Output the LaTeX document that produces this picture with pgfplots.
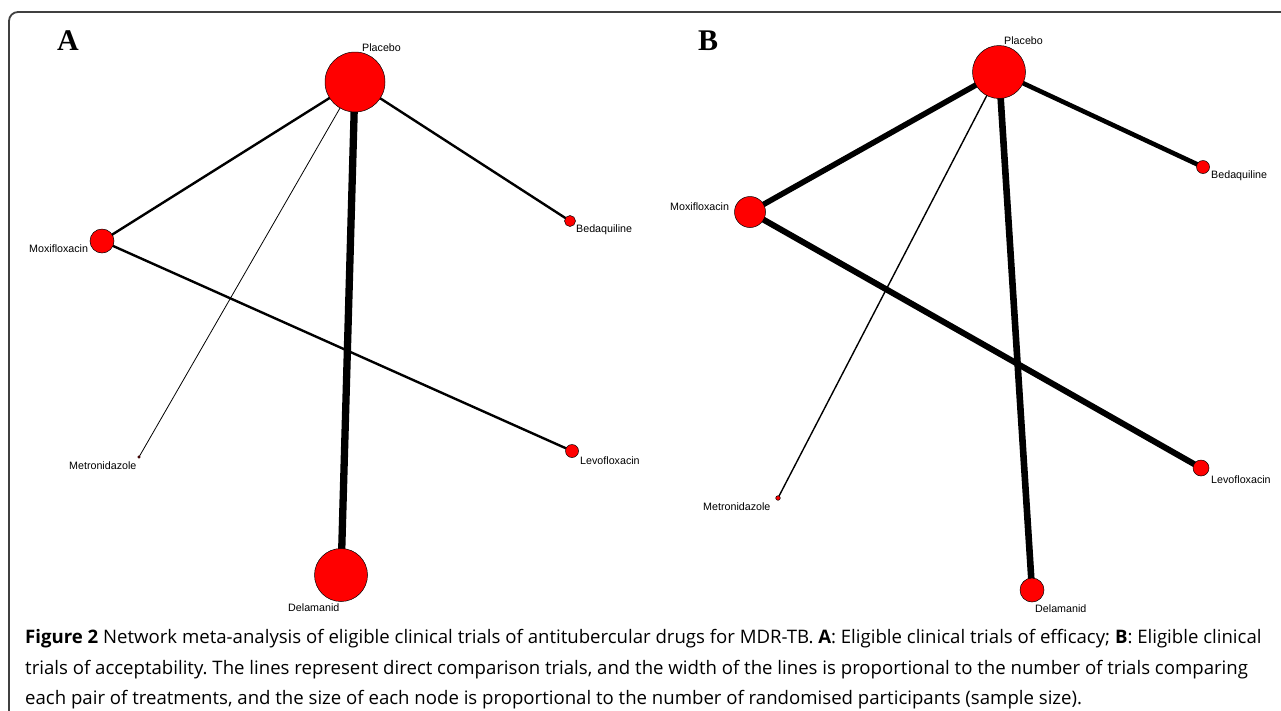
\documentclass[border=0pt]{standalone}
\usepackage{fontspec}
\setmainfont{Liberation Sans}
\newfontfamily\capfont{Open Sans}
\newfontfamily\letfont{Liberation Serif}
\usepackage{pgfplots}
\usepackage{pgfplotstable}
\pgfplotsset{compat=1.18}
\frenchspacing

% node positions (pixel coordinates), radius
\pgfplotstableread{
x y r
355 82 30
102 241 12
570 221 5.5
139 457 1.3
572 451 6.5
341 575 26.5
}\nodesA
\pgfplotstableread{
x y r
999 72 26.5
750 212 15.5
1203 167 6.5
778 498 2.3
1201 468 8
1032 590 12
}\nodesB
\pgfplotstableread{
x y label
362 51 Placebo
29 252 Moxifloxacin
576 232 Bedaquiline
69 469 Metronidazole
580 464 Levofloxacin
288 611 Delamanid
1004 44 Placebo
670 210 Moxifloxacin
1211 178 Bedaquiline
703 510 Metronidazole
1211 483 Levofloxacin
1035 612 Delamanid
}\labels

\newcommand\labfont{\fontsize{10.7}{12}\selectfont}
\newcommand\cfont{\capfont\fontsize{18.6}{22}\selectfont}

\begin{document}
\begin{tikzpicture}
\begin{axis}[
  width=1281pt, height=710pt, scale only axis,
  xmin=0, xmax=1281, ymin=0, ymax=710, y dir=reverse,
  hide axis, clip=true,
]
% frame
\draw[black!75, line width=1.8pt, rounded corners=9pt] (axis cs:9,730) -- (axis cs:9,12) -- (axis cs:1300,12);

% edges panel A
\addplot[black, line width=2.4pt] coordinates {(355,82) (102,241)};
\addplot[black, line width=0.8pt] coordinates {(355,82) (139,457)};
\addplot[black, line width=7.3pt] coordinates {(355,82) (341,575)};
\addplot[black, line width=2.4pt] coordinates {(355,82) (570,221)};
\addplot[black, line width=2.4pt] coordinates {(102,241) (572,451)};
% edges panel B
\addplot[black, line width=5.6pt] coordinates {(999,72) (750,212)};
\addplot[black, line width=1.4pt] coordinates {(999,72) (778,498)};
\addplot[black, line width=6.6pt] coordinates {(999,72) (1032,590)};
\addplot[black, line width=4.6pt] coordinates {(999,72) (1203,167)};
\addplot[black, line width=6pt] coordinates {(750,212) (1201,468)};

% nodes
\addplot[scatter, only marks, mark=*,
  scatter/use mapped color={draw=black, fill=red},
  visualization depends on={\thisrow{r}\as\rad},
  scatter/@pre marker code/.append style={/tikz/mark size=\rad pt},
  mark options={line width=0.5pt}]
  table[x=x, y=y] {\nodesA};
\addplot[scatter, only marks, mark=*,
  scatter/use mapped color={draw=black, fill=red},
  visualization depends on={\thisrow{r}\as\rad},
  scatter/@pre marker code/.append style={/tikz/mark size=\rad pt},
  mark options={line width=0.5pt}]
  table[x=x, y=y] {\nodesB};

% node labels
\addplot[only marks, mark=none, point meta=explicit symbolic,
  nodes near coords,
  every node near coord/.append style={anchor=base west, inner sep=0pt, font=\labfont, text=black}]
  table[x=x, y=y, meta=label] {\labels};

% panel letters
\node[anchor=base west, inner sep=0pt, font={\letfont\bfseries\fontsize{30}{30}\selectfont}] at (axis cs:57,50) {A};
\node[anchor=base west, inner sep=0pt, font={\letfont\bfseries\fontsize{30}{30}\selectfont}] at (axis cs:698,50) {B};

% caption
\node[anchor=base west, inner sep=0pt, font=\cfont] at (axis cs:25,643) {\textbf{Figure 2} Network meta-analysis of eligible clinical trials of antitubercular drugs for MDR-TB. \textbf{A}: Eligible clinical trials of efficacy; \textbf{B}: Eligible clinical};
\node[anchor=base west, inner sep=0pt, font=\cfont] at (axis cs:25,674) {trials of acceptability. The lines represent direct comparison trials, and the width of the lines is proportional to the number of trials comparing};
\node[anchor=base west, inner sep=0pt, font=\cfont] at (axis cs:25,704) {each pair of treatments, and the size of each node is proportional to the number of randomised participants (sample size).};
\end{axis}
\pgfresetboundingbox
\useasboundingbox (current axis.south west) rectangle (current axis.north east);
\end{tikzpicture}
\end{document}
